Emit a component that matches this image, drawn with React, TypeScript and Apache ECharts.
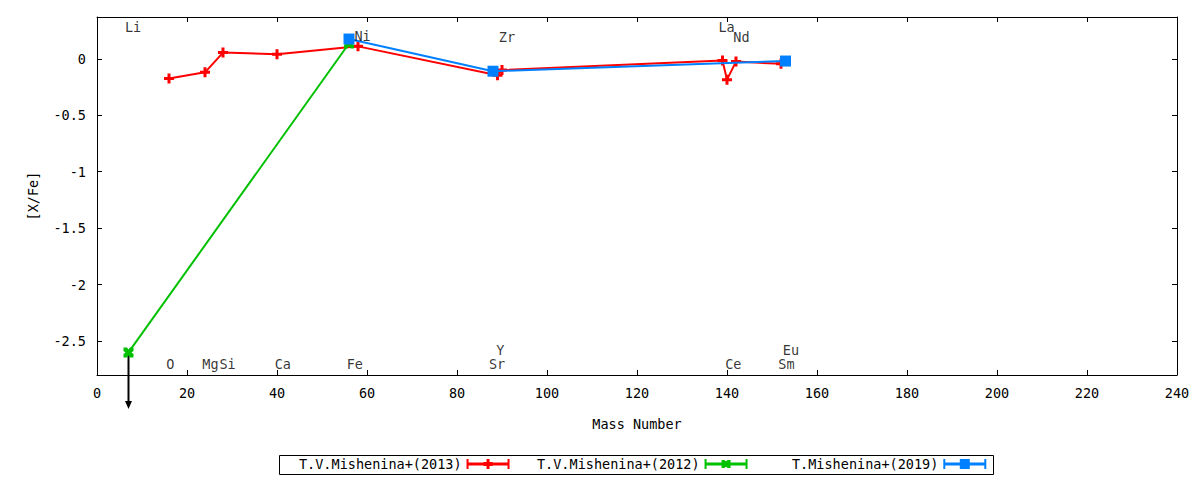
import React, { useEffect, useRef } from "react";
import * as echarts from "echarts";

// ---- data ----
const seriesNames = ["T.V.Mishenina+(2013)", "T.V.Mishenina+(2012)", "T.Mishenina+(2019)"];

const mass2013 = [16, 24, 28, 40, 58, 89, 90, 139, 140, 142, 152];
const xfe2013 = [-0.175, -0.12, 0.055, 0.04, 0.11, -0.145, -0.1, -0.015, -0.185, -0.025, -0.045];

const mass2012 = [7, 56];
const xfe2012 = [-2.6, 0.135];

const mass2019 = [56, 88, 153];
const xfe2019 = [0.175, -0.11, -0.02];

// upper limit (arrow) for Li in 2012 data: [mass, from, to]
const upperLimits = [[7, -2.6, -3.1]];

// element annotations
const labelNames = ["Li", "Ni", "Zr", "La", "Nd", "O", "Mg", "Si", "Ca", "Fe", "Sr", "Y", "Ce", "Sm", "Eu"];
const labelX = [8, 59, 91.1, 139.9, 143.2, 16.3, 25.2, 29, 41.3, 57.3, 88.9, 89.6, 141.4, 153.2, 154.2];
const labelY = [0.28, 0.2, 0.19, 0.28, 0.19, -2.7, -2.7, -2.7, -2.7, -2.7, -2.7, -2.575, -2.7, -2.7, -2.575];

const xTicksMin = 0;
const xTicksMax = 240;
const xTickInterval = 20;
const yMin = -2.8;
const yMax = 0.37;

const FONT = "DejaVu Sans Mono";
const FS = 13.5;
const RED = "#ff0000";
const GREEN = "#00c000";
const BLUE = "#0080ff";

const plusSymbol = "path://M3.5,0H6.5V3.5H10V6.5H6.5V10H3.5V6.5H0V3.5H3.5Z";
const crossSymbol = "path://M0,0H3.5L5,2L6.5,0H10V3.5L8,5L10,6.5V10H6.5L5,8L3.5,10H0V6.5L2,5L0,3.5Z";

const iconBase = "M0,0H2V10H0Z M41,0H43V10H41Z M0,3.5H43V6.5H0Z";
const iconRed = "path://" + iconBase + " M20,0H23V10H20Z M17,3H26V7H17Z";
const iconGreen = "path://" + iconBase + " M17,1H20L21.5,2.5L23,1H26V9H23L21.5,7.5L20,9H17Z";
const iconBlue = "path://" + iconBase + " M16.5,0H26.5V10H16.5Z";

function zip(a: number[], b: number[]) {
  return a.map((v, i) => [v, b[i]]);
}

export default function App() {
  const ref = useRef<HTMLDivElement>(null);
  useEffect(() => {
    if (!ref.current) return;
    const chart = echarts.init(ref.current, undefined, { renderer: "svg" });
    const textBase = { fontFamily: FONT, fontSize: FS, color: "#000" };
    const axisLine = { show: true, onZero: false, lineStyle: { color: "#000", width: 1 } };
    const tick = { show: true, inside: true, length: 5, lineStyle: { color: "#000" } };
    const yFmt = (v: number) => {
      const r = Math.round(v * 2) / 2;
      if (Math.abs(r - v) > 1e-6) return "";
      return String(r);
    };
    const legendCommon = {
      orient: "horizontal",
      align: "right",
      top: 457,
      padding: 0,
      itemWidth: 43,
      itemHeight: 10,
      itemStyle: { borderWidth: 0 },
      textStyle: { ...textBase },
      selectedMode: false,
    };
    const option: any = {
      animation: false,
      backgroundColor: "#fff",
      textStyle: { fontFamily: FONT },
      grid: { left: 97, right: 23, top: 17, bottom: 105, containLabel: false },
      xAxis: [
        {
          type: "value",
          position: "bottom",
          min: xTicksMin,
          max: xTicksMax,
          interval: xTickInterval,
          name: "Mass Number",
          nameLocation: "middle",
          nameGap: 42,
          nameTextStyle: { ...textBase },
          axisLine,
          axisTick: tick,
          axisLabel: { ...textBase, margin: 11 },
          splitLine: { show: false },
        },
        {
          type: "value",
          position: "top",
          min: xTicksMin,
          max: xTicksMax,
          interval: xTickInterval,
          axisLine,
          axisTick: tick,
          axisLabel: { show: false },
          splitLine: { show: false },
        },
      ],
      yAxis: [
        {
          type: "value",
          position: "left",
          min: yMin,
          max: yMax,
          splitNumber: 5,
          name: "[X/Fe]",
          nameLocation: "middle",
          nameGap: 57,
          nameTextStyle: { ...textBase },
          axisLine,
          axisTick: tick,
          axisLabel: { ...textBase, margin: 11, formatter: yFmt, showMinLabel: false, showMaxLabel: false },
          splitLine: { show: false },
        },
        {
          type: "value",
          position: "right",
          min: yMin,
          max: yMax,
          splitNumber: 5,
          axisLine,
          axisTick: tick,
          axisLabel: { show: false },
          splitLine: { show: false },
        },
      ],
      legend: [
        { ...legendCommon, left: 299, data: [{ name: seriesNames[0], icon: iconRed }] },
        { ...legendCommon, left: 537, data: [{ name: seriesNames[1], icon: iconGreen }] },
        { ...legendCommon, left: 792, data: [{ name: seriesNames[2], icon: iconBlue }] },
      ],
      graphic: [
        {
          type: "rect",
          shape: { x: 279.5, y: 455.5, width: 714, height: 19 },
          style: { fill: "none", stroke: "#000", lineWidth: 1 },
          silent: true,
        },
      ],
      series: [
        {
          name: seriesNames[0],
          type: "line",
          data: zip(mass2013, xfe2013),
          symbol: plusSymbol,
          symbolSize: 10,
          lineStyle: { color: RED, width: 2 },
          itemStyle: { color: RED },
          z: 2,
        },
        {
          name: seriesNames[1],
          type: "line",
          data: zip(mass2012, xfe2012),
          symbol: crossSymbol,
          symbolSize: 10,
          lineStyle: { color: GREEN, width: 2 },
          itemStyle: { color: GREEN },
          z: 3,
        },
        {
          name: "upper-limit",
          type: "custom",
          clip: false,
          silent: true,
          data: upperLimits,
          z: 1,
          renderItem: (params: any, api: any) => {
            const x = api.value(0);
            const p1 = api.coord([x, api.value(1)]);
            const p2 = api.coord([x, api.value(2)]);
            const head = 8;
            return {
              type: "group",
              children: [
                {
                  type: "line",
                  shape: { x1: p1[0], y1: p1[1], x2: p2[0], y2: p2[1] - head + 1 },
                  style: { stroke: "#000", lineWidth: 2 },
                },
                {
                  type: "polygon",
                  shape: {
                    points: [
                      [p2[0] - 3.5, p2[1] - head],
                      [p2[0] + 3.5, p2[1] - head],
                      [p2[0], p2[1]],
                    ],
                  },
                  style: { fill: "#000" },
                },
              ],
            };
          },
        },
        {
          name: seriesNames[2],
          type: "line",
          data: zip(mass2019, xfe2019),
          symbol: "rect",
          symbolSize: 11,
          lineStyle: { color: BLUE, width: 2 },
          itemStyle: { color: BLUE },
          z: 4,
        },
        {
          name: "element-labels",
          type: "scatter",
          silent: true,
          symbolSize: 0,
          data: labelNames.map((n, i) => ({ name: n, value: [labelX[i], labelY[i]] })),
          label: {
            show: true,
            position: "inside",
            formatter: "{b}",
            ...textBase,
          },
          z: 5,
        },
      ],
    };
    chart.setOption(option);
    return () => chart.dispose();
  }, []);
  return (
    <div
      ref={ref}
      style={{ position: "absolute", left: 0, top: 0, width: 1200, height: 480, background: "#fff" }}
    />
  );
}
